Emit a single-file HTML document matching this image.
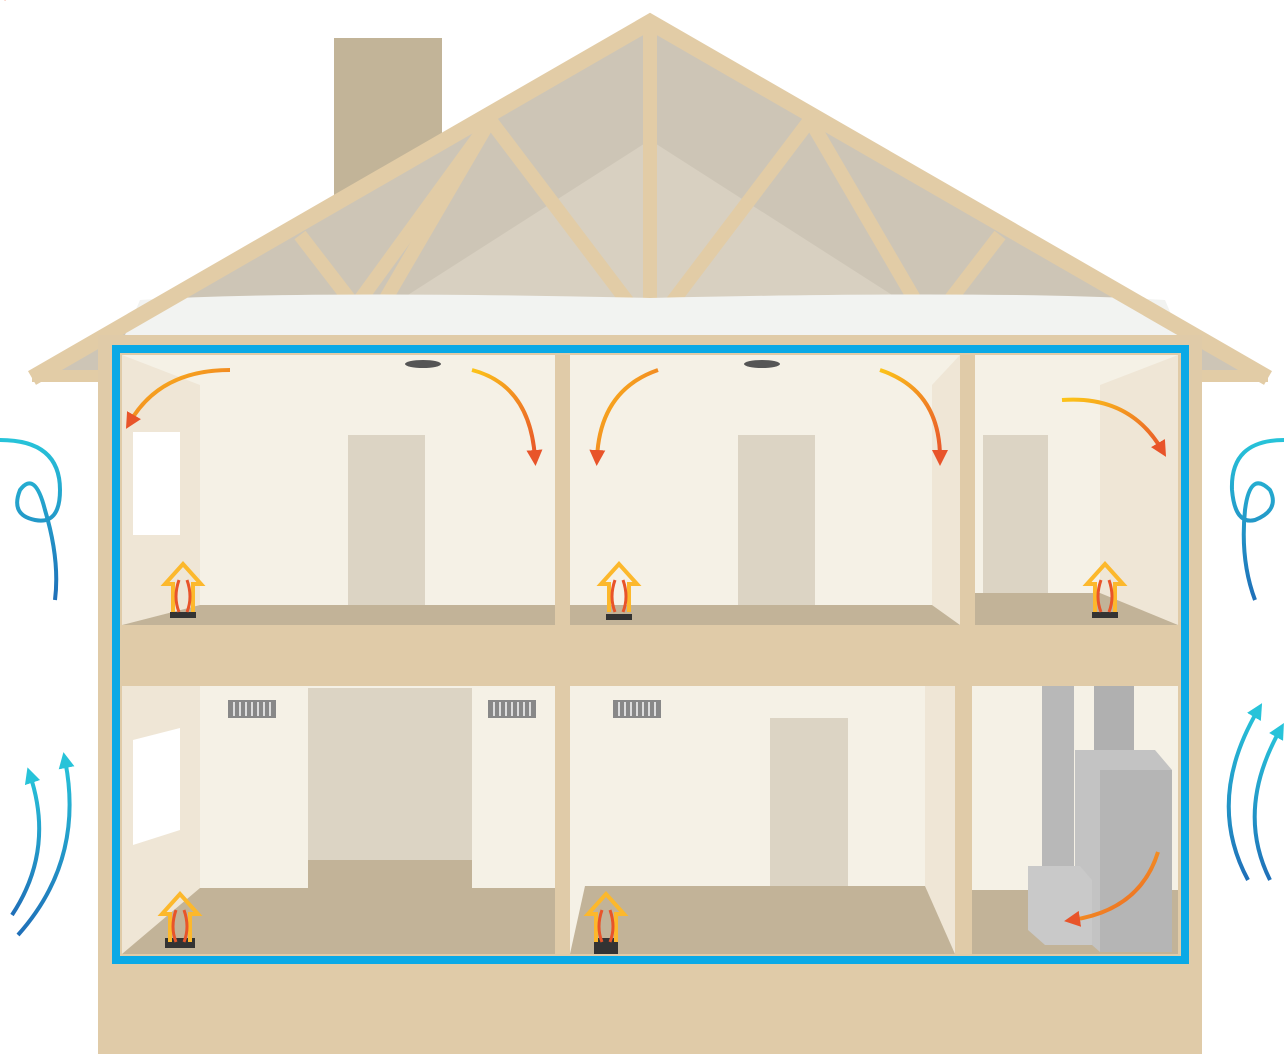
<!DOCTYPE html>
<html><head><meta charset="utf-8"><style>html,body{margin:0;padding:0;background:#fff}svg{display:block}</style></head>
<body>
<svg width="1284" height="1054" viewBox="0 0 1284 1054" xmlns="http://www.w3.org/2000/svg">
<defs>
<linearGradient id="og" x1="0" y1="0" x2="1" y2="1"><stop offset="0" stop-color="#fcc419"/><stop offset="1" stop-color="#e8542a"/></linearGradient>
<linearGradient id="bg" x1="0" y1="1" x2="0" y2="0"><stop offset="0" stop-color="#1f6fb8"/><stop offset="1" stop-color="#27c3d9"/></linearGradient>
<marker id="ah" viewBox="0 0 10 10" refX="5" refY="5" markerWidth="4" markerHeight="4" orient="auto"><path d="M0,0L10,5L0,10z" fill="#e8542a"/></marker>
<marker id="bh" viewBox="0 0 10 10" refX="5" refY="5" markerWidth="4" markerHeight="4" orient="auto"><path d="M0,0L10,5L0,10z" fill="#27c3d9"/></marker>
</defs>
<rect x="334" y="38" width="108" height="160" fill="#c2b498"/>
<polygon points="650,30 40,378 1260,378" fill="#cdc5b6"/>
<polygon points="650,140 400,300 900,300" fill="#d8d0c1"/>
<g stroke="#e2cca6" stroke-width="14" fill="none">
<line x1="650" y1="25" x2="650" y2="305"/>
<line x1="490" y1="120" x2="385" y2="300"/>
<line x1="490" y1="120" x2="630" y2="305"/>
<line x1="810" y1="120" x2="915" y2="300"/>
<line x1="810" y1="120" x2="670" y2="305"/>
<line x1="300" y1="235" x2="350" y2="300"/>
<line x1="1000" y1="235" x2="950" y2="300"/>
<line x1="480" y1="135" x2="360" y2="300"/>
</g>
<path d="M125,335 L140,300 Q300,290 650,298 Q1000,290 1165,300 L1180,335 Z" fill="#f2f3f1"/>
<polyline points="32,378 650,22 1268,378" fill="none" stroke="#e2cca6" stroke-width="16" stroke-linejoin="miter"/>
<polygon points="32,370 32,382 98,382 98,370" fill="#e2cca6"/>
<polygon points="1202,370 1202,382 1268,382 1268,370" fill="#e2cca6"/>
<rect x="98" y="335" width="1104" height="719" fill="#e0cba8"/>
<rect x="122" y="355" width="433" height="270" fill="#f5f1e6"/>
<rect x="570" y="355" width="390" height="270" fill="#f5f1e6"/>
<rect x="975" y="355" width="203" height="270" fill="#f5f1e6"/>
<polygon points="122,355 200,385 200,605 122,625" fill="#efe6d6"/>
<rect x="133" y="432" width="47" height="103" fill="#fff"/>
<rect x="348" y="435" width="77" height="170" fill="#dcd4c4"/>
<rect x="738" y="435" width="77" height="170" fill="#dcd4c4"/>
<polygon points="960,355 932,385 932,605 960,625" fill="#efe6d6"/>
<rect x="983" y="435" width="65" height="160" fill="#dcd4c4"/>
<polygon points="1178,355 1100,385 1100,605 1178,625" fill="#efe6d6"/>
<polygon points="122,625 200,605 555,605 555,625" fill="#c2b398"/>
<polygon points="570,625 570,605 932,605 960,625" fill="#c2b398"/>
<polygon points="975,625 975,593 1100,593 1178,625" fill="#c2b398"/>
<ellipse cx="423" cy="364" rx="18" ry="4" fill="#555"/>
<ellipse cx="762" cy="364" rx="18" ry="4" fill="#555"/>
<rect x="122" y="686" width="433" height="268" fill="#f5f1e6"/>
<rect x="570" y="686" width="385" height="268" fill="#f5f1e6"/>
<rect x="972" y="686" width="206" height="268" fill="#f5f1e6"/>
<polygon points="122,686 200,686 200,890 122,954" fill="#efe6d6"/>
<polygon points="133,740 180,728 180,830 133,845" fill="#fff"/>
<rect x="308" y="688" width="164" height="172" fill="#dcd4c4"/>
<rect x="770" y="718" width="78" height="168" fill="#dcd4c4"/>
<polygon points="955,686 925,686 925,886 955,954" fill="#efe6d6"/>
<polygon points="122,954 200,888 308,888 308,860 472,860 472,888 555,888 555,954" fill="#c2b398"/>
<polygon points="570,954 585,886 925,886 955,954" fill="#c2b398"/>
<polygon points="972,954 972,890 1178,890 1178,954" fill="#c2b398"/>
<g fill="#888"><rect x="228" y="700" width="48" height="18"/><rect x="488" y="700" width="48" height="18"/><rect x="613" y="700" width="48" height="18"/></g>
<g stroke="#ddd" stroke-width="2"><path d="M234,702v14M240,702v14M246,702v14M252,702v14M258,702v14M264,702v14M270,702v14M494,702v14M500,702v14M506,702v14M512,702v14M518,702v14M524,702v14M530,702v14M619,702v14M625,702v14M631,702v14M637,702v14M643,702v14M649,702v14M655,702v14"/></g>
<rect x="1042" y="686" width="32" height="180" fill="#b8b8b8"/>
<rect x="1094" y="686" width="40" height="70" fill="#b0b0b0"/>
<polygon points="1075,750 1155,750 1172,770 1172,952 1100,952 1075,930" fill="#c3c3c3"/>
<rect x="1100" y="770" width="72" height="182" fill="#b5b5b5"/>
<polygon points="1028,866 1080,866 1092,880 1092,945 1045,945 1028,930" fill="#c9c9c9"/>
<rect x="555" y="345" width="15" height="620" fill="#e0cba8"/>
<rect x="960" y="345" width="15" height="285" fill="#e0cba8"/>
<rect x="955" y="680" width="17" height="280" fill="#e0cba8"/>
<rect x="112" y="625" width="1076" height="58" fill="#e0cba8"/>
<rect x="116" y="349" width="1069" height="611" fill="none" stroke="#0aa9e6" stroke-width="8"/>
<g fill="none" stroke="url(#og)" stroke-width="4" marker-end="url(#ah)">
<path d="M230,370 Q160,370 130,422"/>
<path d="M472,370 Q530,385 535,458"/>
<path d="M658,370 Q600,390 597,458"/>
<path d="M880,370 Q940,390 940,458"/>
<path d="M1062,400 Q1130,395 1162,450"/>
<path d="M1158,852 Q1140,910 1072,920"/>
</g>
<g id="ha">
<path d="M-10,0 v-28 h-8 l18,-20 18,20 h-8 v28" fill="none" stroke="#fcb82c" stroke-width="4"/>
<path d="M-4,0 q-6,-15 0,-32 M4,0 q6,-15 0,-32" fill="none" stroke="#e8542a" stroke-width="3"/>
</g>
<rect x="170" y="612" width="26" height="6" fill="#333"/>
<use href="#ha" x="183" y="612"/>
<rect x="606" y="614" width="26" height="6" fill="#333"/>
<use href="#ha" x="619" y="612"/>
<rect x="1092" y="612" width="26" height="6" fill="#333"/>
<use href="#ha" x="1105" y="612"/>
<rect x="165" y="938" width="30" height="10" fill="#333"/>
<use href="#ha" x="180" y="942"/>
<rect x="594" y="938" width="24" height="16" fill="#333"/>
<use href="#ha" x="606" y="942"/>
<g fill="none" stroke="url(#bg)" stroke-width="4">
<path d="M0,440 Q60,440 60,490 Q60,525 35,520 Q10,515 20,490 Q35,470 45,510 Q60,560 55,600"/>
<path d="M1284,440 Q1230,440 1232,490 Q1235,525 1255,520 Q1280,510 1270,490 Q1250,470 1245,510 Q1240,560 1255,600"/>
<path d="M12,915 Q55,850 30,775" marker-end="url(#bh)"/>
<path d="M18,935 Q85,860 65,760" marker-end="url(#bh)"/>
<path d="M1248,880 Q1205,800 1258,710" marker-end="url(#bh)"/>
<path d="M1270,880 Q1235,810 1280,730" marker-end="url(#bh)"/>
</g>
</svg>
</body></html>
